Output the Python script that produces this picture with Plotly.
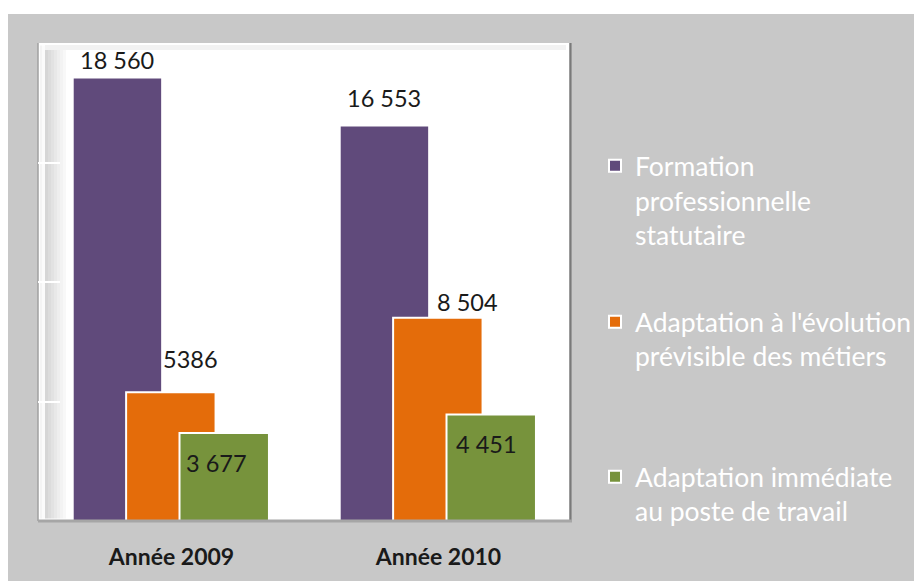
import plotly.graph_objects as go

# ---- data ----
categories = ["Année 2009", "Année 2010"]
series_names = [
    "Formation<br>professionnelle<br>statutaire",
    "Adaptation à l'évolution<br>prévisible des métiers",
    "Adaptation immédiate<br>au poste de travail",
]
formation = [18560, 16553]
adaptation_evolution = [5386, 8504]
adaptation_immediate = [3677, 4451]
label_formation = ["18 560", "16 553"]
label_evolution = ["5386", "8 504"]
label_immediate = ["3 677", "4 451"]

# ---- style ----
colors = ["#604a7b", "#e46c0a", "#77933c"]
bar_width = 0.335
offsets = [-0.37, -0.17, 0.03]
FONT = "Lato"

# page has an 8px body margin; figure coordinates = page - 8
OX, OY = 8, 8
W, H = 922 - OX, 581 - OY
PL, PR, PT, PB = 38, 572, 43, 521  # plot area in page px
L, R, T, B = PL - OX, W - (PR - OX), PT - OY, H - (PB - OY)
pw, ph = W - L - R, H - T - B


def px_x(p):  # page px -> paper x
    return (p - OX - L) / pw


def px_y(p):  # page px -> paper y
    return (H - B - (p - OY)) / ph


xs = list(range(len(categories)))
values = [formation, adaptation_evolution, adaptation_immediate]
labels = [label_formation, label_evolution, label_immediate]
legend_ids = ["legend", "legend2", "legend3"]

fig = go.Figure()
for i in range(3):
    fig.add_trace(go.Bar(
        x=xs, y=values[i], name=series_names[i],
        width=bar_width, offset=offsets[i],
        marker=dict(color=colors[i], line=dict(color="white", width=2)),
        legend=legend_ids[i], hoverinfo="y",
    ))

# data labels (style offsets in px per label)
label_shifts = [
    [(0, 17), (0, 27)],      # formation: above
    [(20, 33), (30, 16)],    # evolution: above, shifted right
    [(-8, -30), (-5, -29)],  # immediate: inside
]
annotations = []
for i in range(3):
    for j, x in enumerate(xs):
        dx, dy = label_shifts[i][j]
        annotations.append(dict(
            x=x + offsets[i] + bar_width / 2, y=values[i][j],
            xref="x", yref="y", text=labels[i][j], showarrow=False,
            xanchor="center", yanchor="middle", xshift=dx, yshift=dy,
            font=dict(family=FONT, size=23.5, color="#1a1a1a"),
        ))

shapes = [
    # white page strip at top
    dict(type="rect", xref="paper", yref="paper", x0=-0.3, x1=1.9,
         y0=px_y(14), y1=1.5, fillcolor="white", line_width=0, layer="below"),
    # plot area
    dict(type="rect", xref="paper", yref="paper", x0=0, x1=1, y0=0, y1=1,
         fillcolor="white", line_width=0, layer="below"),
]
# left wall shading (gradient strips)
wall = [(40, 42, "#f4f4f4"), (42, 45, "#fbfbfb"), (45, 48, "#d6d6d6"),
        (48, 51, "#dcdcdc"), (51, 54, "#e2e2e2"), (54, 57, "#e8e8e8"),
        (57, 60, "#eeeeee"), (60, 63, "#f3f3f3"), (63, 66, "#f8f8f8")]
for a, b, c in wall:
    shapes.append(dict(type="rect", xref="paper", yref="paper",
                       x0=px_x(a), x1=px_x(b), y0=0.005, y1=0.995,
                       fillcolor=c, line_width=0, layer="below"))
shapes += [
    # top wall shading
    dict(type="rect", xref="paper", yref="paper", x0=px_x(45), x1=px_x(566),
         y0=px_y(50), y1=px_y(45), fillcolor="#f2f2f2", line_width=0, layer="below"),
    # frame lines
    dict(type="line", xref="paper", yref="paper", x0=px_x(38), x1=px_x(38),
         y0=0, y1=1, line=dict(color="#a0a0a0", width=1.5), layer="below"),
    dict(type="line", xref="paper", yref="paper", x0=px_x(570.5), x1=px_x(570.5),
         y0=0, y1=1, line=dict(color="#7a7a7a", width=2.5), layer="above"),
    dict(type="line", xref="paper", yref="paper", x0=0, x1=1,
         y0=0, y1=0, line=dict(color="#a6a6a6", width=3), layer="above"),
]

legend_common = dict(
    font=dict(family=FONT, size=26.5, color="white"),
    bgcolor="rgba(0,0,0,0)", xanchor="left", yanchor="top", valign="top",
    itemclick=False, itemdoubleclick=False,
)
lx = px_x(595)
fig.update_layout(
    width=W, height=H,
    margin=dict(l=L, r=R, t=T, b=B, autoexpand=False),
    paper_bgcolor="#c8c8c8", plot_bgcolor="rgba(0,0,0,0)",
    barmode="overlay", showlegend=True,
    legend=dict(x=lx, y=px_y(142), **legend_common),
    legend2=dict(x=lx, y=px_y(298), **legend_common),
    legend3=dict(x=lx, y=px_y(453), **legend_common),
    xaxis=dict(range=[-0.5, 1.5], tickvals=xs, ticktext=[f"<b>{c}</b>" for c in categories],
               showgrid=False, zeroline=False, showline=False, ticks="",
               ticklabelstandoff=20,
               tickfont=dict(family=FONT, size=23, color="#1a1a1a")),
    yaxis=dict(range=[0, 20000], showgrid=False, zeroline=False, showline=False,
               showticklabels=False, ticks="inside", ticklen=22, tickwidth=2,
               tickcolor="white", tickvals=[5000, 10000, 15000]),
    shapes=shapes, annotations=annotations,
)

fig.write_html("out.html")
